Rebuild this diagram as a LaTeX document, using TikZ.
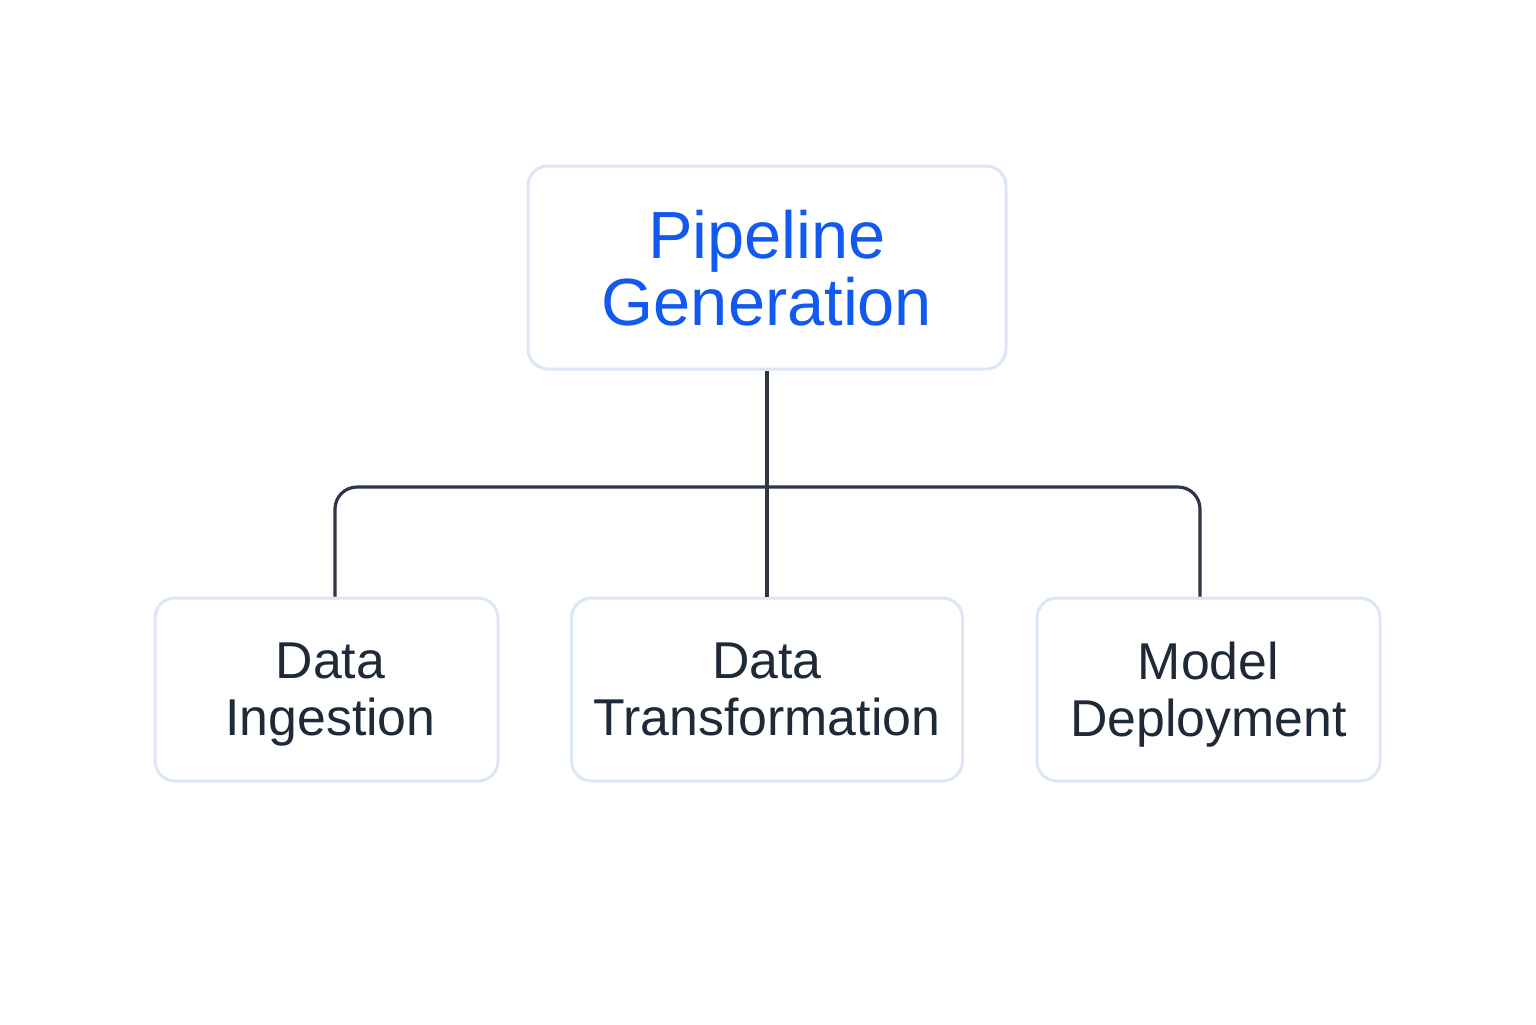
\documentclass[tikz,border=0pt]{standalone}
\usepackage{fontspec}
\setmainfont{Liberation Sans}
\definecolor{boxline}{HTML}{DCE6F5}
\definecolor{titleblue}{HTML}{1259F0}
\definecolor{textdark}{HTML}{1F2937}
\definecolor{connline}{HTML}{2D3748}
\tikzset{
  box/.style={draw=boxline, line width=3bp, rounded corners=20bp, fill=white, inner sep=0pt, align=center, text depth=0pt},
  conn/.style={draw=connline, line width=3.2bp},
}
\begin{document}
\begin{tikzpicture}[x=1bp,y=-1bp]
\fill[white] (0,0) rectangle (1536,1024);
\useasboundingbox (0,0) rectangle (1536,1024);
\node[box, minimum width=478bp, minimum height=203bp, text=titleblue,
  font=\fontsize{67}{67}\selectfont] (top) at (767,267.5) {Pipeline\\Generation};
\node[box, minimum width=343bp, minimum height=183bp, text=textdark,
  font=\fontsize{52}{57}\selectfont] (left) at (326.5,689.5) {\hspace*{8bp}Data\\\hspace*{8bp}Ingestion};
\node[box, minimum width=391bp, minimum height=183bp, text=textdark,
  font=\fontsize{52}{57}\selectfont] (mid) at (767,689.5) {Data\\Transformation};
\node[box, minimum width=343bp, minimum height=183bp, text=textdark,
  font=\fontsize{52}{57}\selectfont] (right) at (1208.5,689.5) {Model\\Deployment};
\coordinate (bus) at (767,487);
\draw[conn] (top.south) -- (mid.north);
\draw[conn, rounded corners=22bp] ([xshift=8.5bp]left.north) |- (bus) -| ([xshift=-8.5bp]right.north);
\end{tikzpicture}
\end{document}
